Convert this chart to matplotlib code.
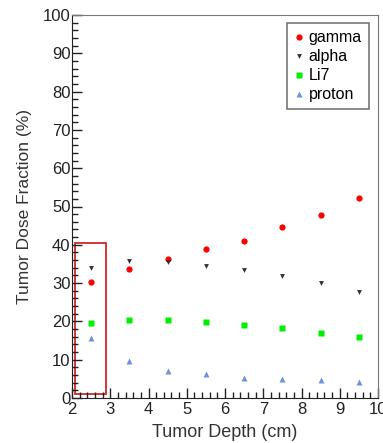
import matplotlib
matplotlib.use("Agg")
import matplotlib.pyplot as plt
from matplotlib.patches import Rectangle
from matplotlib.ticker import MultipleLocator

plt.rcParams['font.family'] = ['Liberation Sans', 'DejaVu Sans']

# data
depth = [2.5, 3.5, 4.5, 5.5, 6.5, 7.5, 8.5, 9.5]
gamma = [30.3, 33.7, 36.4, 39.0, 41.1, 44.7, 47.9, 52.1]
alpha = [33.9, 35.8, 35.5, 34.5, 33.3, 31.9, 30.1, 27.7]
li7 = [19.6, 20.3, 20.3, 19.8, 19.1, 18.2, 17.1, 15.8]
proton = [15.6, 9.7, 7.1, 6.2, 5.2, 5.0, 4.6, 4.2]

fig = plt.figure(figsize=(3.83, 4.43), dpi=100)
ax = fig.add_axes([72/383, 45/443, 306/383, 383/443])

ax.plot(depth, gamma, 'o', color='#ff0000', ms=4.5, mec='none', label='gamma')
ax.plot(depth, alpha, 'v', color='#333333', ms=3.5, mec='none', label='alpha')
ax.plot(depth, li7, 's', color='#00ee00', ms=4.5, mec='none', label='Li7')
ax.plot(depth, proton, '^', color='#6f93d8', ms=4, mec='none', label='proton')

# highlight box around first depth
ax.add_patch(Rectangle((2.09, 1.1), 0.79, 39.5, fill=False, edgecolor='#d02828', lw=1.3, clip_on=False))

ax.set_xlim(2, 10)
ax.set_ylim(0, 100)
ax.xaxis.set_major_locator(MultipleLocator(1))
ax.xaxis.set_minor_locator(MultipleLocator(0.2))
ax.yaxis.set_major_locator(MultipleLocator(10))
ax.yaxis.set_minor_locator(MultipleLocator(2))
ax.tick_params(which='both', direction='in', top=False, right=False, labelsize=12, colors='#222222')
ax.tick_params(axis='x', pad=3)
ax.tick_params(axis='y', pad=1)
ax.tick_params(which='major', length=7, width=1)
ax.tick_params(which='minor', length=4, width=1)
ax.spines['left'].set_color('#222222')
ax.spines['bottom'].set_color('#222222')
ax.spines['top'].set_color('#777777')
ax.spines['right'].set_color('#777777')

ax.set_xlabel('Tumor Depth (cm)', fontsize=13, color='#333333', labelpad=5)
ax.set_ylabel('Tumor Dose Fraction (%)', fontsize=12.5, color='#333333', labelpad=8)

leg = ax.legend(loc='upper right', bbox_to_anchor=(369/383, 1 - 23/443), bbox_transform=fig.transFigure,
                fontsize=11.5, frameon=True, fancybox=False, handlelength=0.6, handletextpad=0.3,
                labelspacing=0.25, borderpad=0.45, borderaxespad=0)
leg.get_frame().set_edgecolor('#555555')
leg.get_frame().set_linewidth(1.2)

fig.savefig('out.png', dpi=100)
